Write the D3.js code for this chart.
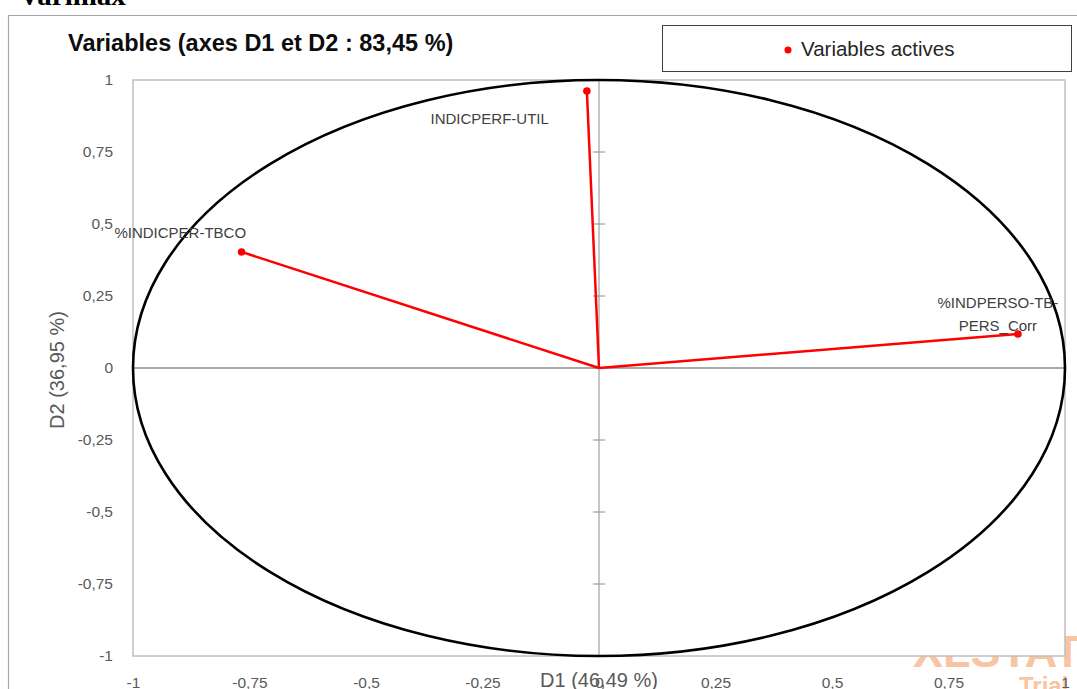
<!DOCTYPE html>
<html>
<head>
<meta charset="utf-8">
<script src="https://cdn.jsdelivr.net/npm/d3@7/dist/d3.min.js"></script>
<style>
  html, body { margin: 0; padding: 0; background: #fff; }
  svg { display: block; font-family: "Liberation Sans", Arial, sans-serif; }
</style>
</head>
<body>
<svg id="chart" width="1077" height="689"></svg>
<script>
// ---- data ----
const variables = ["INDICPERF-UTIL", "%INDICPER-TBCO", "%INDPERSO-TB-PERS_Corr"];
const labelLines = [["INDICPERF-UTIL"], ["%INDICPER-TBCO"], ["%INDPERSO-TB-", "PERS_Corr"]];
const d1Values = [-0.026, -0.767, 0.899];
const d2Values = [0.962, 0.403, 0.118];
const tickValues = [-1, -0.75, -0.5, -0.25, 0, 0.25, 0.5, 0.75, 1];
const tickLabels = ["-1", "-0,75", "-0,5", "-0,25", "0", "0,25", "0,5", "0,75", "1"];
const chartTitle = "Variables (axes D1 et D2 : 83,45 %)";
const xAxisTitle = "D1 (46,49 %)";
const yAxisTitle = "D2 (36,95 %)";
const legendLabel = "Variables actives";
const headerText = "Varimax";

// ---- layout ----
const svg = d3.select("#chart");
const plot = { left: 133, right: 1065, top: 80, bottom: 656 };
const x = d3.scaleLinear().domain([-1, 1]).range([plot.left, plot.right]);
const y = d3.scaleLinear().domain([-1, 1]).range([plot.bottom, plot.top]);

// header text (cut off at top)
svg.append("text").attr("x", 19).attr("y", 5)
  .style("font-family", "'Liberation Serif', 'Times New Roman', serif")
  .style("font-weight", "bold").style("font-size", "29px").attr("fill", "#000")
  .text(headerText);

// outer chart frame
svg.append("path")
  .attr("d", "M8.5,700 L8.5,15.5 L1090,15.5")
  .attr("fill", "none").attr("stroke", "#a6a6a6").attr("stroke-width", 1.2);

// watermark
svg.append("text").attr("x", 913).attr("y", 667)
  .attr("font-weight", "bold").attr("font-size", 45).attr("fill", "#f9c4a2")
  .text("XLSTAT");
svg.append("text").attr("x", 1019).attr("y", 694)
  .attr("font-weight", "bold").attr("font-size", 24).attr("fill", "#f9c4a2")
  .text("Trial");

// title
svg.append("text").attr("x", 68).attr("y", 51)
  .attr("font-weight", "bold").attr("font-size", 23.5).attr("fill", "#0d0d0d")
  .text(chartTitle);

// legend
const lg = svg.append("g");
lg.append("rect").attr("x", 662.5).attr("y", 25.5).attr("width", 409).attr("height", 46)
  .attr("fill", "#fff").attr("stroke", "#404040").attr("stroke-width", 1);
lg.append("circle").attr("cx", 788).attr("cy", 50).attr("r", 3.5).attr("fill", "#ff0000");
lg.append("text").attr("x", 801).attr("y", 56).attr("font-size", 20.5).attr("fill", "#262626")
  .text(legendLabel);

// plot area
svg.append("rect")
  .attr("x", plot.left).attr("y", plot.top)
  .attr("width", plot.right - plot.left).attr("height", plot.bottom - plot.top)
  .attr("fill", "#fff").attr("stroke", "#bfbfbf").attr("stroke-width", 1.5);

// y tick labels
const yAxis = d3.axisLeft(y).tickValues(tickValues)
  .tickFormat((d, i) => tickLabels[i]).tickSize(0).tickPadding(20);
const gy = svg.append("g").attr("transform", `translate(${plot.left},0)`).call(yAxis);
gy.select(".domain").remove();
gy.selectAll("text").attr("font-size", 15.5).attr("fill", "#595959")
  .attr("font-family", "Liberation Sans, Arial, sans-serif");

// x tick labels
const xAxis = d3.axisBottom(x).tickValues(tickValues)
  .tickFormat((d, i) => tickLabels[i]).tickSize(0).tickPadding(21);
const gx = svg.append("g").attr("transform", `translate(0,${plot.bottom})`).call(xAxis);
gx.select(".domain").remove();
gx.selectAll("text").attr("font-size", 15.5).attr("fill", "#595959")
  .attr("font-family", "Liberation Sans, Arial, sans-serif");

// zero axes
svg.append("line").attr("x1", plot.left).attr("x2", plot.right)
  .attr("y1", y(0)).attr("y2", y(0)).attr("stroke", "#8c8c8c").attr("stroke-width", 1.3);
svg.append("line").attr("x1", x(0)).attr("x2", x(0))
  .attr("y1", plot.top).attr("y2", plot.bottom).attr("stroke", "#8c8c8c").attr("stroke-width", 1);
svg.append("g").selectAll("line").data(tickValues).join("line")
  .attr("x1", x(0) - 6).attr("x2", x(0) + 6)
  .attr("y1", d => y(d)).attr("y2", d => y(d))
  .attr("stroke", "#8c8c8c").attr("stroke-width", 1);

// correlation circle
svg.append("ellipse")
  .attr("cx", x(0)).attr("cy", y(0))
  .attr("rx", x(1) - x(0)).attr("ry", y(0) - y(1))
  .attr("fill", "none").attr("stroke", "#000").attr("stroke-width", 2.6);

// vectors
const pts = variables.map((v, i) => ({ name: v, lines: labelLines[i], d1: d1Values[i], d2: d2Values[i], i }));
svg.append("g").selectAll("line").data(pts).join("line")
  .attr("x1", x(0)).attr("y1", y(0))
  .attr("x2", d => x(d.d1)).attr("y2", d => y(d.d2))
  .attr("stroke", "#ff0000").attr("stroke-width", 2.5);
svg.append("g").selectAll("circle").data(pts).join("circle")
  .attr("cx", d => x(d.d1)).attr("cy", d => y(d.d2)).attr("r", 3.8).attr("fill", "#ff0000");

// point labels (offsets from point, anchor)
const labelStyle = [
  { dx: -38, dy: 33, anchor: "end" },
  { dx: 4.5, dy: -14, anchor: "end" },
  { dx: -20, dy: -26, anchor: "middle" }
];
const lbl = svg.append("g").selectAll("text").data(pts).join("text")
  .attr("font-size", 15).attr("fill", "#404040")
  .attr("text-anchor", d => labelStyle[d.i].anchor)
  .attr("x", d => x(d.d1) + labelStyle[d.i].dx)
  .attr("y", d => y(d.d2) + labelStyle[d.i].dy);
lbl.selectAll("tspan").data(d => d.lines.map(l => ({ l, d }))).join("tspan")
  .attr("x", o => x(o.d.d1) + labelStyle[o.d.i].dx)
  .attr("dy", (o, j) => j === 0 ? 0 : 23)
  .text(o => o.l);

// axis titles
svg.append("text").attr("x", x(0)).attr("y", 687).attr("text-anchor", "middle")
  .attr("font-size", 20).attr("fill", "#595959").text(xAxisTitle);
svg.append("text").attr("transform", `translate(64,${y(0) + 2}) rotate(-90)`)
  .attr("text-anchor", "middle").attr("font-size", 20).attr("fill", "#595959").text(yAxisTitle);
</script>
</body>
</html>
